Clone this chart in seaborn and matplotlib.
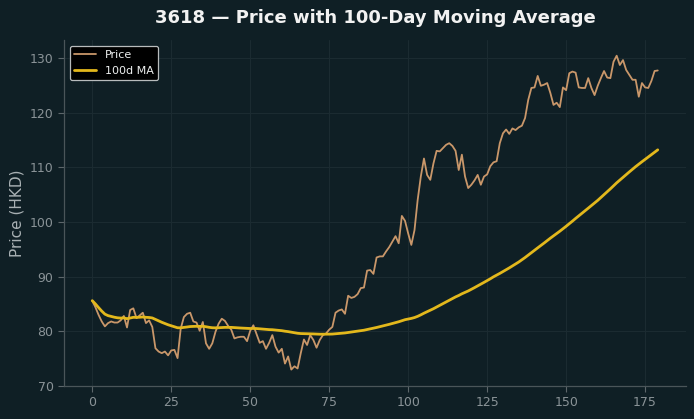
import matplotlib
matplotlib.use("Agg")
import matplotlib.pyplot as plt
import numpy as np
import pandas as pd
import seaborn as sns

# daily closing prices (trading day 0..179)
price = [
    85.6, 84.4, 83.0, 81.8, 80.9, 81.5, 81.8, 81.6, 81.6, 82.0,
    82.8, 80.7, 83.9, 84.2, 82.4, 82.9, 83.4, 81.5, 82.0, 80.8,
    76.9, 76.3, 76.0, 76.3, 75.6, 76.5, 76.6, 75.1, 80.5, 82.6,
    83.2, 83.4, 81.8, 81.6, 80.1, 81.7, 77.8, 76.8, 77.8, 79.9,
    81.4, 82.3, 81.9, 81.0, 80.3, 78.7, 78.9, 79.0, 79.0, 78.2,
    80.1, 81.1, 79.5, 77.9, 78.2, 76.8, 77.9, 79.3, 77.2, 76.1,
    76.8, 74.1, 75.4, 73.0, 73.6, 73.2, 76.0, 78.5, 77.5, 79.3,
    78.4, 77.0, 78.4, 79.3, 79.6, 80.3, 80.8, 83.4, 83.8, 84.0,
    83.2, 86.5, 86.1, 86.3, 86.8, 87.9, 88.0, 91.1, 91.2, 90.5,
    93.5, 93.7, 93.7, 94.6, 95.4, 96.4, 97.4, 96.1, 101.1, 100.2,
    97.9, 95.8, 98.5, 104.0, 108.3, 111.6, 108.6, 107.7, 110.7, 113.0,
    112.9, 113.5, 114.1, 114.4, 113.9, 113.0, 109.5, 112.3, 108.3, 106.2,
    106.8, 107.6, 108.6, 106.8, 108.3, 108.7, 110.2, 110.9, 111.1, 114.4,
    116.2, 116.9, 116.1, 117.1, 116.8, 117.3, 117.6, 119.0, 122.3, 124.5,
    124.6, 126.7, 124.9, 125.1, 125.4, 123.6, 121.4, 121.8, 121.0, 124.6,
    124.1, 127.2, 127.5, 127.3, 124.6, 124.5, 124.5, 126.3, 124.5, 123.2,
    124.9, 126.3, 127.6, 126.4, 126.3, 129.3, 130.4, 128.7, 129.6, 127.8,
    126.9, 126.0, 126.0, 122.9, 125.4, 124.6, 124.5, 125.8, 127.6, 127.7,
]
day = np.arange(len(price))
ma_window = 100

BG = "#0f1f25"
PRICE_C = "#c9976a"
MA_C = "#e3b81c"

sns.set_theme(
    style="darkgrid",
    rc={
        "figure.facecolor": BG,
        "axes.facecolor": BG,
        "axes.edgecolor": "#4a5559",
        "grid.color": "#1b2b31",
        "grid.linewidth": 0.8,
        "xtick.color": "#5d676b",
        "ytick.color": "#5d676b",
        "xtick.labelcolor": "#8a9397",
        "ytick.labelcolor": "#8a9397",
        "axes.labelcolor": "#a9b1b4",
        "text.color": "#eef0f0",
        "xtick.bottom": True,
        "ytick.left": True,
    },
)
plt.rcParams["font.family"] = ["DejaVu Sans"]

df = pd.DataFrame({"day": day, "Price": price})
df["100d MA"] = df["Price"].rolling(ma_window, min_periods=1).mean()

fig = plt.figure(figsize=(6.94, 4.19), dpi=100)
ax = fig.add_axes([0.0922, 0.0788, 0.8963, 0.8257])

sns.lineplot(data=df, x="day", y="Price", ax=ax, color=PRICE_C, linewidth=1.3, label="Price")
sns.lineplot(data=df, x="day", y="100d MA", ax=ax, color=MA_C, linewidth=2.0, label="100d MA")

ax.set_xticks([0, 25, 50, 75, 100, 125, 150, 175])
ax.set_yticks([70, 80, 90, 100, 110, 120, 130])
ax.tick_params(labelsize=9, length=4, width=0.8)
ax.set_xlabel("")
ax.set_ylabel("Price (HKD)", fontsize=11)
ax.set_title("3618 — Price with 100-Day Moving Average", fontsize=13, fontweight="bold",
             color="#f2f2f2", pad=12)

for side in ("top", "right"):
    ax.spines[side].set_visible(False)
for side in ("left", "bottom"):
    ax.spines[side].set_color("#4a5559")
    ax.spines[side].set_linewidth(0.9)

leg = ax.legend(loc="upper left", fontsize=8, facecolor="#000000", edgecolor="#b8bcbd",
                framealpha=1.0, labelcolor="#eef0f0")
leg.get_frame().set_linewidth(0.9)

fig.savefig("out.png", dpi=100, facecolor=BG)
